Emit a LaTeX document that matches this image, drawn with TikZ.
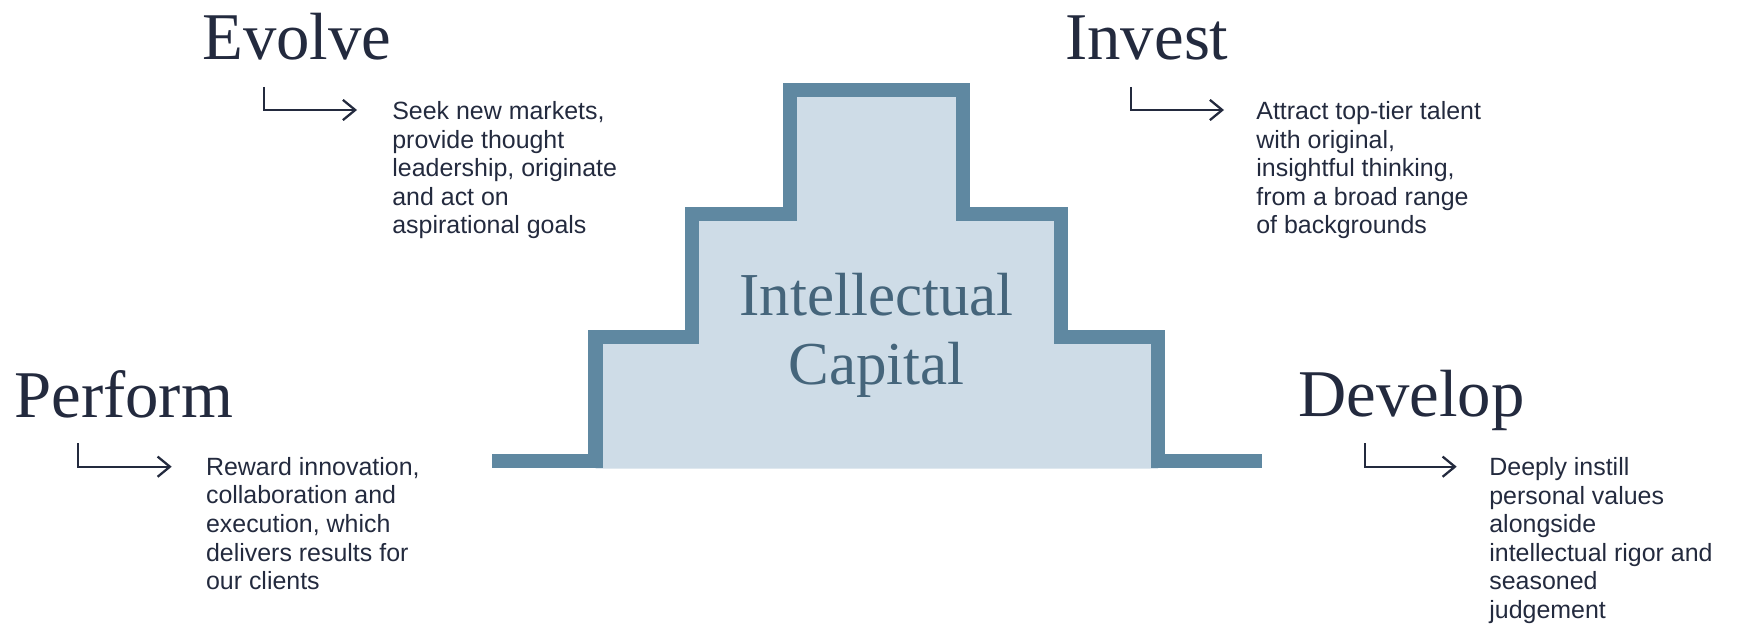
\documentclass[tikz,border=0pt]{standalone}
\usepackage{fontspec}
\usepackage{tikz}
\usetikzlibrary{arrows.meta}
\setmainfont{Liberation Serif}
\newfontfamily\bodyfont{Liberation Sans}

\definecolor{navy}{HTML}{232A3E}
\definecolor{stairline}{HTML}{5F88A1}
\definecolor{stairfill}{HTML}{CEDCE7}
\definecolor{stairtext}{HTML}{45657B}

\begin{document}
\begin{tikzpicture}[x=0.02cm,y=-0.02cm,
  heading/.style={anchor=base west,inner sep=0pt,text=navy,font=\fontsize{38}{40}\selectfont},
  blurb/.style={anchor=north west,inner sep=0pt,align=left,text=navy,font=\bodyfont\fontsize{14.2}{16.3}\selectfont},
  pointer/.style={draw=navy,line width=1.3pt,-{Straight Barb[length=7pt,width=11.5pt]}}]
\useasboundingbox (0,0) rectangle (1738,625);
\newcommand{\bl}{461}

% Fill the steps, then draw the outline over them
\fill[stairfill] (595.5,468.7) -- (595.5,337) -- (692,337) -- (692,214) -- (790,214) -- (790,90)
  -- (963,90) -- (963,214) -- (1061,214) -- (1061,337) -- (1158,337) -- (1158,468.7) -- cycle;
\draw[stairline,line width=8.5pt] (492,\bl) -- (595.5,\bl) -- (595.5,337) -- (692,337) -- (692,214)
  -- (790,214) -- (790,90) -- (963,90) -- (963,214) -- (1061,214) -- (1061,337) -- (1158,337)
  -- (1158,\bl) -- (1262,\bl);

\node[anchor=north,inner sep=0pt,align=center,text=stairtext,font=\fontsize{34.7}{39.3}\selectfont]
  (capital) at (876.5,273) {Intellectual\\Capital};

% Headings
\node[heading] (evolve) at (202,59.3) {Evolve};
\node[heading] (invest) at (1065,59.3) {Invest};
\node[heading] (perform) at (14,417) {Perform};
\node[heading] (develop) at (1298,416) {Develop};

% Texts
\node[blurb] (evolvetext) at (392,101) {Seek new markets,\\provide thought\\leadership, originate\\and act on\\aspirational goals};
\node[blurb] (investtext) at (1256,101) {Attract top-tier talent\\with original,\\insightful thinking,\\from a broad range\\of backgrounds};
\node[blurb] (performtext) at (205.7,456.7) {Reward innovation,\\collaboration and\\execution, which\\delivers results for\\our clients};
\node[blurb] (developtext) at (1489,457) {Deeply instill\\personal values\\alongside\\intellectual rigor and\\seasoned\\judgement};

% Arrows
\coordinate (evolvestart) at (264,87);
\coordinate (evolveend) at (357,110);
\coordinate (investstart) at (1130.7,87);
\coordinate (investend) at (1224,110);
\coordinate (performstart) at (78.3,443);
\coordinate (performend) at (171.7,466.7);
\coordinate (developstart) at (1365,443);
\coordinate (developend) at (1456.7,466.7);
\draw[pointer] (evolvestart) |- (evolveend);
\draw[pointer] (investstart) |- (investend);
\draw[pointer] (performstart) |- (performend);
\draw[pointer] (developstart) |- (developend);

\end{tikzpicture}
\end{document}
